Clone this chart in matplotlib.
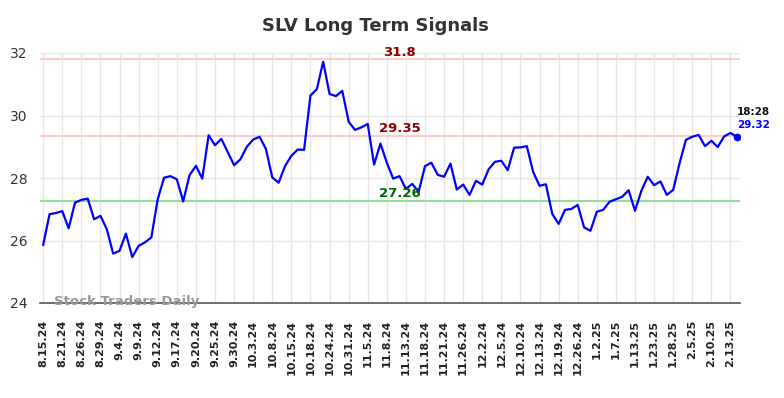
import matplotlib
matplotlib.use("Agg")
import matplotlib.pyplot as plt
import numpy as np

tick_labels = ["8.15.24", "8.21.24", "8.26.24", "8.29.24", "9.4.24", "9.9.24", "9.12.24",
               "9.17.24", "9.20.24", "9.25.24", "9.30.24", "10.3.24", "10.8.24", "10.15.24",
               "10.18.24", "10.24.24", "10.31.24", "11.5.24", "11.8.24", "11.13.24", "11.18.24",
               "11.21.24", "11.26.24", "12.2.24", "12.5.24", "12.10.24", "12.13.24", "12.19.24",
               "12.26.24", "1.2.25", "1.7.25", "1.13.25", "1.23.25", "1.28.25", "2.5.25",
               "2.10.25", "2.13.25"]

prices = [25.86, 26.84, 26.88, 26.94, 26.39, 27.21, 27.30, 27.34, 26.68, 26.79,
          26.36, 25.58, 25.67, 26.22, 25.47, 25.83, 25.94, 26.10, 27.32, 28.01,
          28.06, 27.96, 27.25, 28.09, 28.39, 27.98, 29.37, 29.05, 29.25, 28.83,
          28.41, 28.60, 29.00, 29.23, 29.32, 28.93, 28.02, 27.85, 28.38, 28.71,
          28.91, 28.90, 30.64, 30.84, 31.72, 30.69, 30.62, 30.79, 29.80, 29.54,
          29.62, 29.73, 28.43, 29.10, 28.49, 27.98, 28.06, 27.65, 27.81, 27.56,
          28.38, 28.49, 28.10, 28.04, 28.46, 27.63, 27.79, 27.46, 27.91, 27.79,
          28.28, 28.52, 28.55, 28.25, 28.97, 28.98, 29.02, 28.19, 27.75, 27.80,
          26.85, 26.53, 26.98, 27.01, 27.14, 26.42, 26.31, 26.92, 26.98, 27.24,
          27.32, 27.40, 27.61, 26.95, 27.59, 28.04, 27.77, 27.89, 27.46, 27.62,
          28.47, 29.22, 29.32, 29.38, 29.02, 29.19, 28.99, 29.33, 29.44, 29.32]

resistance_high = 31.8
resistance_low = 29.35
support = 27.26
last_time = "18:28"
title = "SLV Long Term Signals"
watermark = "Stock Traders Daily"

fig = plt.figure(figsize=(7.84, 3.98), dpi=100)
ax = fig.add_axes([40/784, 1-303/398, 700/784, 250/398])

x = np.arange(len(prices))
ax.axhline(resistance_high, color="#ffcccc", lw=1.5, zorder=2)
ax.axhline(resistance_low, color="#ffcccc", lw=1.5, zorder=2)
ax.axhline(support, color="#90e090", lw=1.5, zorder=2)
ax.plot(x, prices, color="#0000ff", lw=1.6, zorder=3)
ax.plot(x[-1], prices[-1], "o", color="#0000ff", ms=4.5, zorder=4)

ax.set_xlim(-0.5, len(prices) - 0.5)
ax.set_ylim(24, 32)
ticks = np.arange(0, len(prices), 3)[:len(tick_labels)]
ax.set_xticks(ticks)
ax.set_xticklabels(tick_labels, rotation=90, fontsize=8, fontweight="bold", color="#222222")
ax.set_yticks([24, 26, 28, 30, 32])
ax.tick_params(axis="x", length=0, pad=12)
ax.tick_params(axis="y", length=0, pad=9, labelsize=10, labelcolor="#333333")
ax.grid(True, color="#e6e6e6", lw=1)
ax.set_axisbelow(True)
for s in ["top", "right", "left"]:
    ax.spines[s].set_visible(False)
ax.spines["bottom"].set_color("#555555")
ax.spines["bottom"].set_linewidth(1.2)

mid = 56
ax.annotate(f"{resistance_high}", (mid, resistance_high), xytext=(0, 0.5), textcoords="offset points",
            ha="center", va="bottom", color="#8b0000", fontsize=9.5, fontweight="bold")
ax.annotate(f"{resistance_low}", (mid, resistance_low), xytext=(0, 0.5), textcoords="offset points",
            ha="center", va="bottom", color="#8b0000", fontsize=9.5, fontweight="bold")
ax.annotate(f"{support}", (mid, support), xytext=(0, 0.5), textcoords="offset points",
            ha="center", va="bottom", color="#006400", fontsize=9.5, fontweight="bold")

ax.annotate(f"{prices[-1]:.2f}", (x[-1], prices[-1]), xytext=(0, 5), textcoords="offset points",
            ha="left", va="bottom", color="#0000ff", fontsize=7.5, fontweight="bold", annotation_clip=False)
ax.annotate(last_time, (x[-1], prices[-1]), xytext=(0, 14.5), textcoords="offset points",
            ha="left", va="bottom", color="#111111", fontsize=7.5, fontweight="bold", annotation_clip=False)

ax.text(54/784, 1-302/398, watermark, transform=fig.transFigure, ha="left", va="center",
        fontsize=9.5, fontweight="bold", color="#999999", zorder=5)

fig.text(375/784, 1-26/398, title, ha="center", va="center", fontsize=13, fontweight="bold", color="#333333")

fig.savefig("out.png", dpi=100)
